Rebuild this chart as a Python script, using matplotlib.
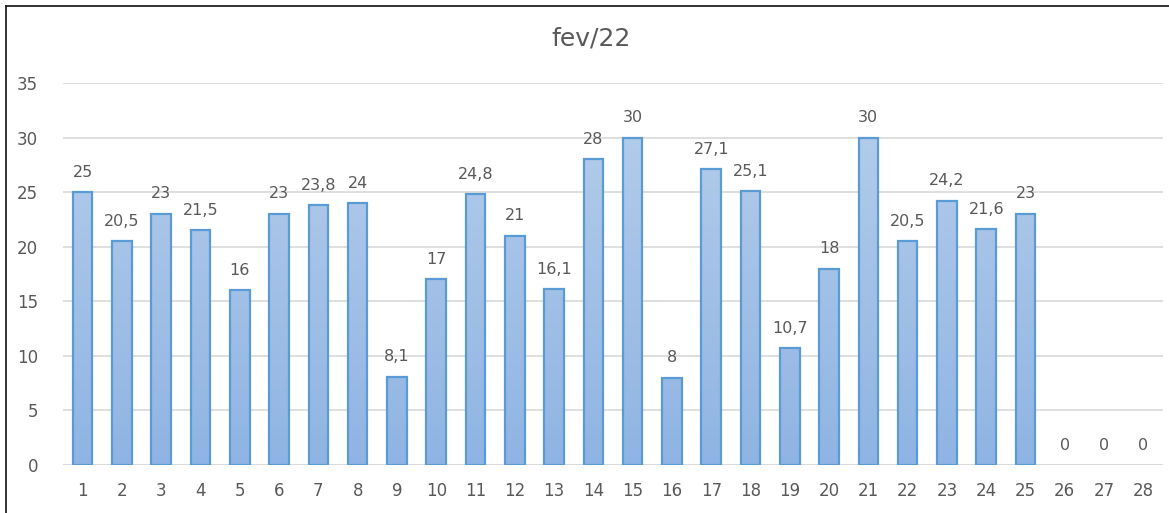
import numpy as np
import matplotlib
matplotlib.use("Agg")
import matplotlib.pyplot as plt
from matplotlib.lines import Line2D
from matplotlib.colors import LinearSegmentedColormap

days = [str(d) for d in range(1, 29)]
values = [25, 20.5, 23, 21.5, 16, 23, 23.8, 24, 8.1, 17, 24.8, 21, 16.1, 28,
          30, 8, 27.1, 25.1, 10.7, 18, 30, 20.5, 24.2, 21.6, 23, 0, 0, 0]
y_ticks = [0, 5, 10, 15, 20, 25, 30, 35]
title = "fev/22"

text_gray = "#595959"
grid_gray = "#d9d9d9"
edge_blue = "#5b9bd5"

plt.rcParams["font.family"] = ["DejaVu Sans"]

fig = plt.figure(figsize=(11.69, 5.13), dpi=100)
ax = fig.add_axes([63 / 1169, 1 - 465 / 513, 1100 / 1169, (465 - 83) / 513])

x = np.arange(len(days))
bars = ax.bar(x, values, width=0.5, color="none", edgecolor=edge_blue,
              linewidth=1.6, zorder=3)

# vertical gradient fill, lighter at the top of each bar
cmap = LinearSegmentedColormap.from_list("barfill", ["#8fb4e3", "#b7cfeb"])
grad = np.linspace(0, 1, 256).reshape(-1, 1)
for b, v in zip(bars, values):
    if v <= 0:
        b.set_linewidth(0)
        continue
    x0 = b.get_x()
    im = ax.imshow(grad, cmap=cmap, aspect="auto", origin="lower",
                   extent=[x0, x0 + b.get_width(), 0, 35], zorder=2)
    im.set_clip_path(b)

for xi, v in zip(x, values):
    label = f"{v:g}".replace(".", ",")
    ax.annotate(label, (xi, v), xytext=(0, 9), textcoords="offset points",
                ha="center", va="bottom", fontsize=11.5, color=text_gray)

ax.set_xlim(-0.5, len(days) - 0.5)
ax.set_ylim(0, 35)
ax.set_yticks(y_ticks)
ax.set_xticks(x)
ax.set_xticklabels(days)
ax.tick_params(axis="both", length=0, labelsize=12, labelcolor=text_gray)
ax.tick_params(axis="y", pad=18)
ax.tick_params(axis="x", pad=12)
ax.grid(axis="y", color=grid_gray, linewidth=1.2, zorder=0)
ax.set_axisbelow(True)
for s in ax.spines.values():
    s.set_visible(False)
ax.axhline(0, color=grid_gray, linewidth=1.2, zorder=1)

fig.text(591 / 1169, 1 - 38 / 513, title, ha="center", va="center",
         fontsize=18, color=text_gray)

# frame lines on the left and top
fig.add_artist(Line2D([6 / 1169, 6 / 1169], [0, 1 - 6 / 513],
                      transform=fig.transFigure, color="#222222", linewidth=1.3))
fig.add_artist(Line2D([6 / 1169, 1], [1 - 6 / 513, 1 - 6 / 513],
                      transform=fig.transFigure, color="#222222", linewidth=1.3))

fig.savefig("out.png", dpi=100)
